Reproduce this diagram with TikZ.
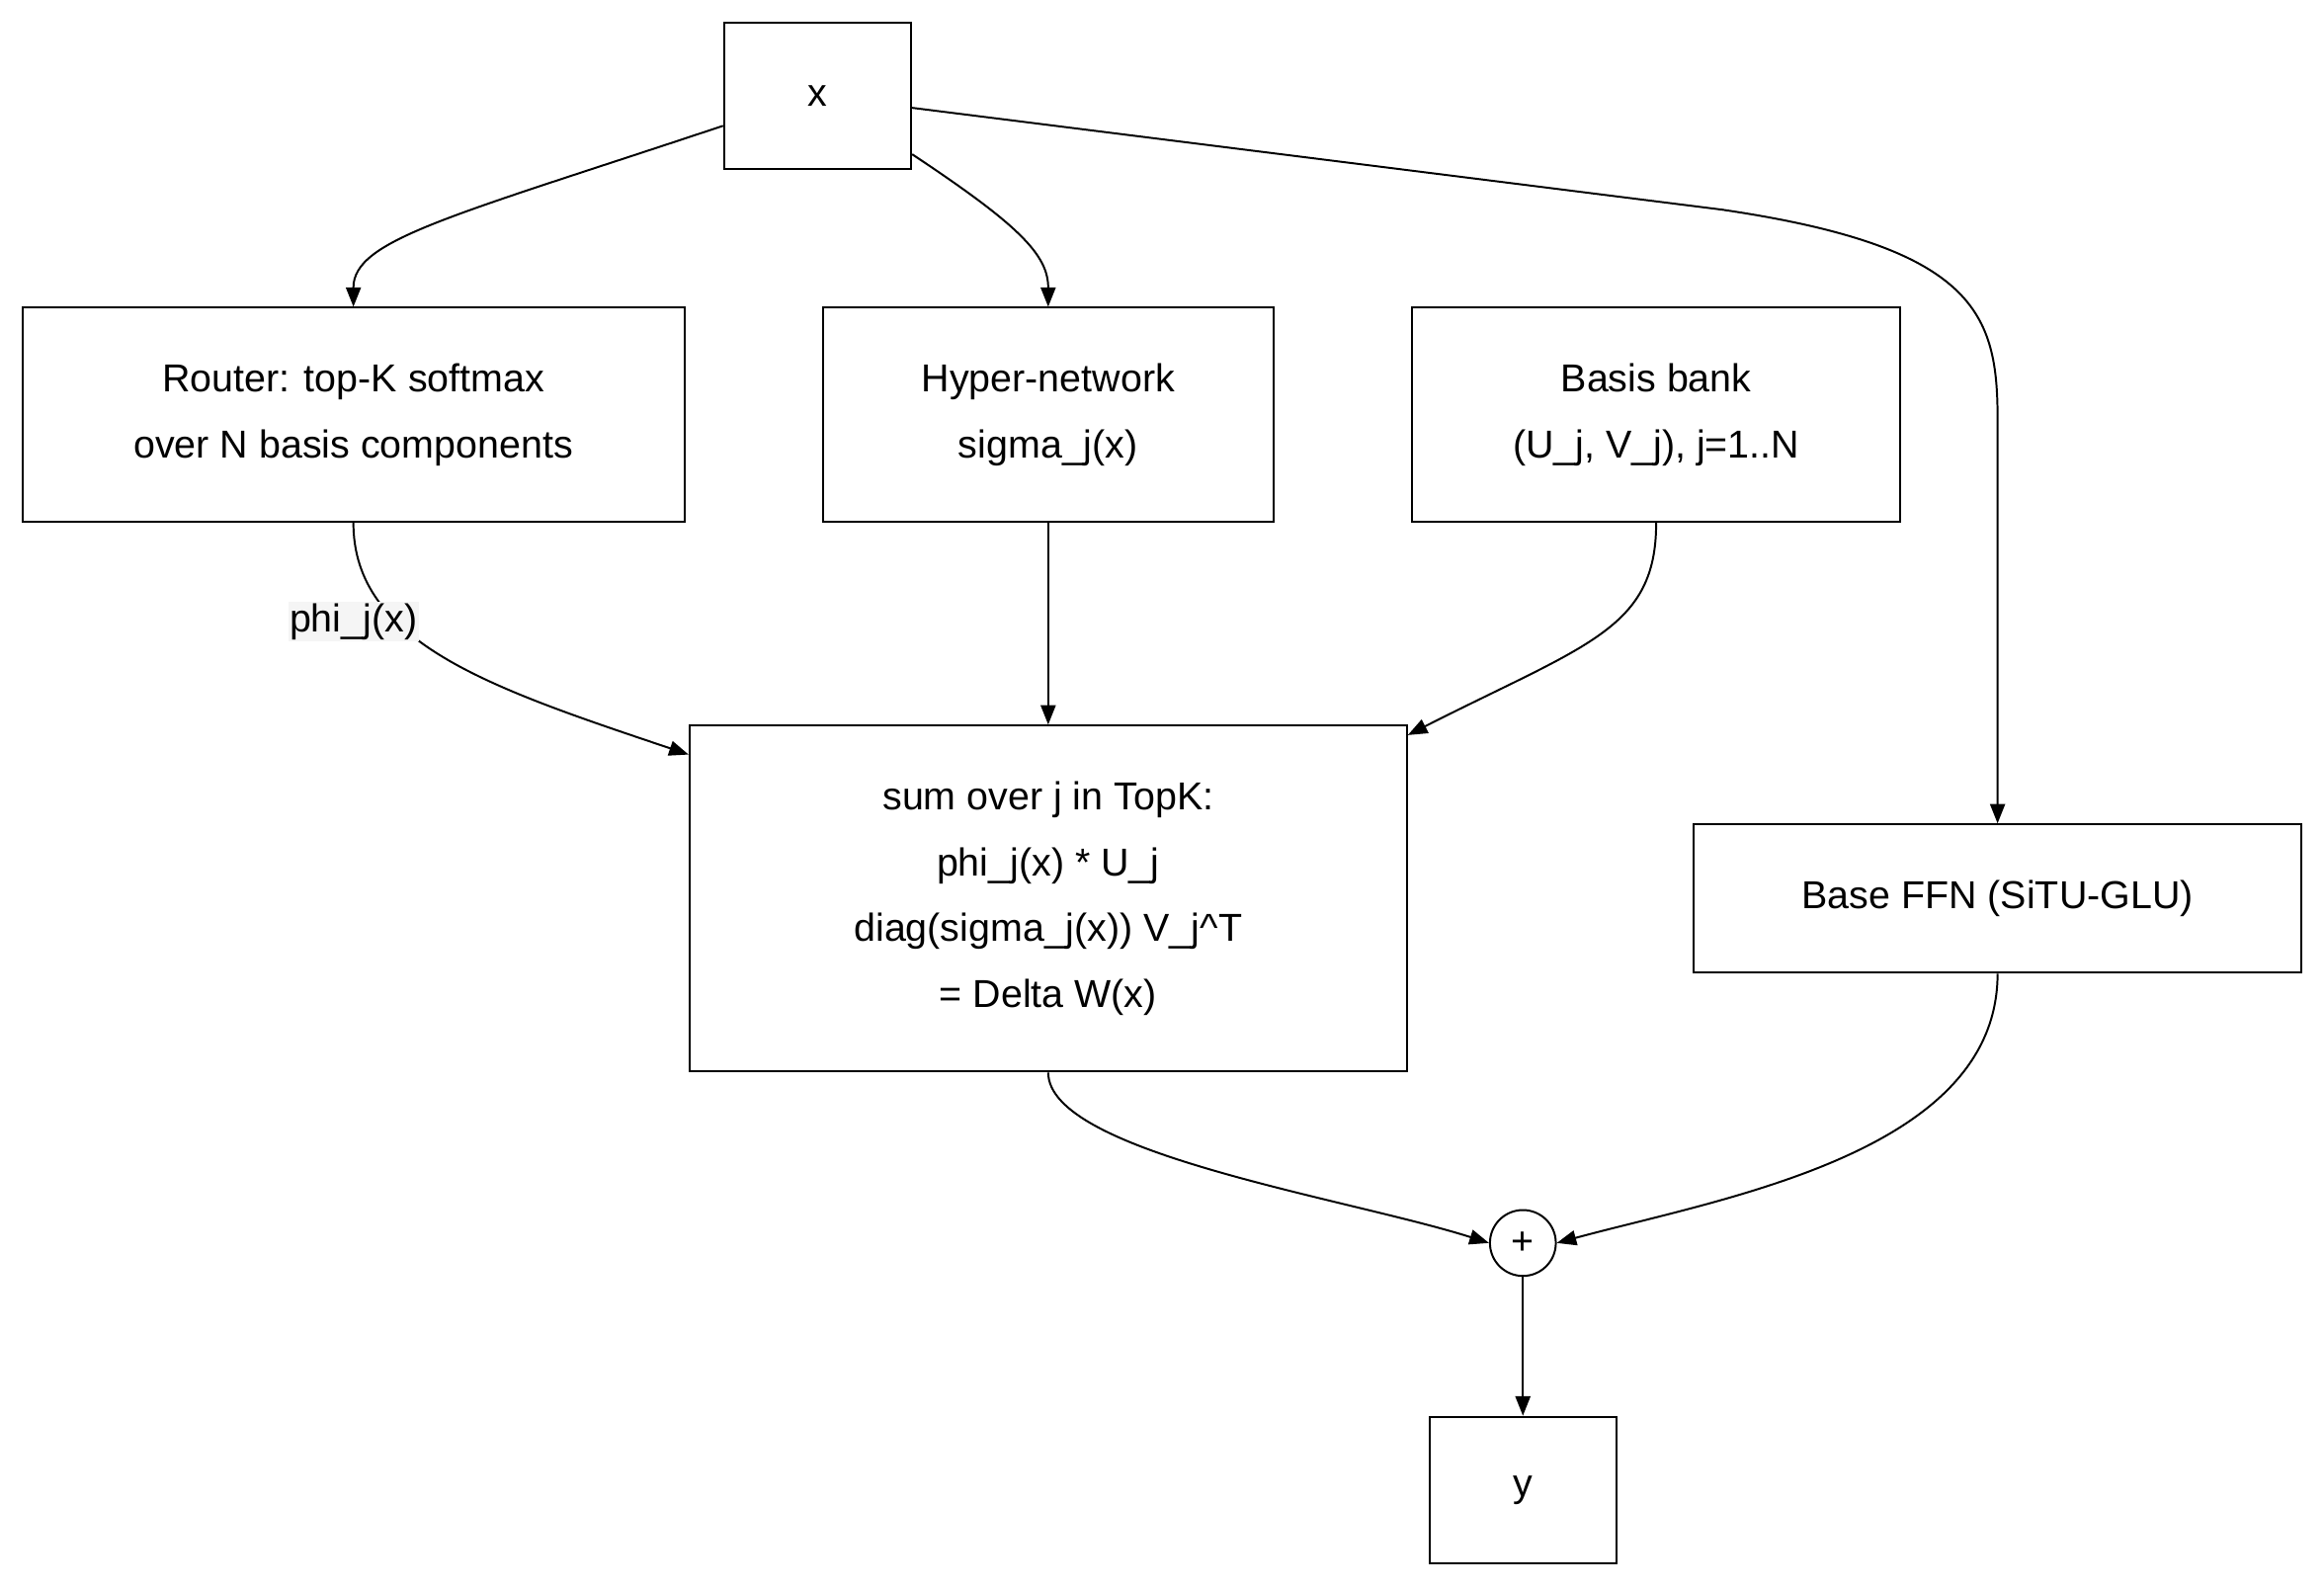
\documentclass[tikz,border=0pt]{standalone}
\usepackage{fontspec}
\setmainfont{Liberation Sans}
\usetikzlibrary{arrows.meta,calc}
\begin{document}
\begin{tikzpicture}[x=1pt,y=-1pt,
  box/.style={draw,line width=1.3pt,align=center,inner sep=0pt,font=\fontsize{26}{44}\selectfont},
  arr/.style={line width=1.3pt,-{Triangle[length=13pt,width=10pt]}}]
\useasboundingbox (0,0) rectangle (1552,1061);
\node[box,minimum width=125,minimum height=98] (x) at (546,64) {x};
\node[box,minimum width=442,minimum height=143] (router) at (236,277) {Router: top-K softmax\\over N basis components};
\node[box,minimum width=301,minimum height=143] (hyper) at (700,277) {Hyper-network\\sigma\_j(x)};
\node[box,minimum width=326,minimum height=143] (basis) at (1106,277) {Basis bank\\(U\_j, V\_j), j=1..N};
\node[box,minimum width=479,minimum height=231] (sum) at (700,600) {sum over j in TopK:\\phi\_j(x) * U\_j\\diag(sigma\_j(x)) V\_j\^{}T\\= Delta W(x)};
\node[box,minimum width=406,minimum height=99] (base) at (1334,600) {Base FFN (SiTU-GLU)};
\node[box,circle,minimum size=44] (plus) at (1017,830) {+};
\node[box,minimum width=125,minimum height=98] (y) at (1017,995) {y};
\draw[arr] ($(x.west)+(0,20)$) .. controls (300,145) and (236,160) .. (router.north);
\draw[arr] ($(x.east)+(0,39)$) .. controls (680,150) and (700,170) .. (hyper.north);
\draw[arr] ($(x.east)+(0,8)$) -- (1150,140) .. controls (1320,165) and (1334,210) .. (1334,280) -- (base.north);
\draw[arr] (router.south) .. controls (236,430) and (330,460) .. ($(sum.north west)+(0,20)$);
\node[fill=gray!8,inner sep=1pt,font=\fontsize{26}{30}\selectfont] (lbl) at (236,415) {phi\_j(x)};
\draw[arr] (hyper.south) -- (sum.north);
\draw[arr] (basis.south) .. controls (1106,420) and (1060,430) .. ($(sum.north east)+(0,7)$);
\draw[arr] (sum.south) .. controls (700,770) and (900,800) .. (plus.west);
\draw[arr] (base.south) .. controls (1334,770) and (1150,800) .. (plus.east);
\draw[arr] (plus.south) -- (y.north);
\end{tikzpicture}
\end{document}
